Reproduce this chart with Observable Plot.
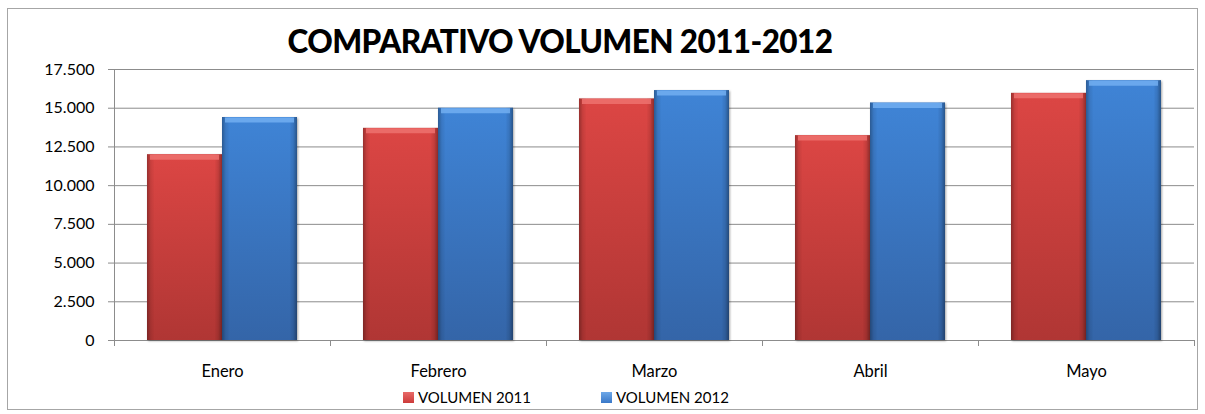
<!DOCTYPE html>
<html>
<head>
<meta charset="utf-8">
<script src="https://cdn.jsdelivr.net/npm/d3@7"></script>
<script src="https://cdn.jsdelivr.net/npm/@observablehq/plot@0.6"></script>
<style>
  html, body { margin: 0; padding: 0; background: #fff; }
  #wrap { position: relative; width: 1205px; height: 414px; overflow: hidden; font-family: Lato, "Open Sans", sans-serif; }
  #border { position: absolute; left: 7px; top: 8px; width: 1189px; height: 400px; border: 1px solid #a6a6a6; pointer-events: none; }
  #title { height: 60px; text-align: center; width: 1120px; font-weight: 900; font-size: 31.5px; color: #000; letter-spacing: -0.6px; box-sizing: border-box; padding-top: 22px; line-height: 38px; }
  #legend { position: relative; height: 24px; font-size: 15px; color: #000; }
  .li { position: absolute; top: -2px; height: 18px; display: flex; align-items: center; }
  .sw { width: 11px; height: 11px; margin-right: 4px; }
  svg { display: block; }
</style>
</head>
<body>
<div id="wrap">
  <div id="title">COMPARATIVO VOLUMEN 2011-2012</div>
  <div id="chart"></div>
  <div id="legend"></div>
  <div id="border"></div>
</div>
<script>
const months = ["Enero", "Febrero", "Marzo", "Abril", "Mayo"];
const series = ["VOLUMEN 2011", "VOLUMEN 2012"];
const vol2011 = [12000, 13700, 15600, 13230, 15960];
const vol2012 = [14400, 15000, 16140, 15340, 16780];
const yTicks = [0, 2500, 5000, 7500, 10000, 12500, 15000, 17500];

const data = [];
months.forEach((m, i) => {
  data.push({month: m, series: series[0], value: vol2011[i]});
  data.push({month: m, series: series[1], value: vol2012[i]});
});

const locale = d3.formatLocale({decimal: ",", thousands: ".", grouping: [3], currency: ["", ""]});
const fmt = locale.format(",d");

const grid = "#8c8c8c";

const plot = Plot.plot({
  width: 1205,
  height: 330,
  marginLeft: 114,
  marginRight: 11,
  marginTop: 9,
  marginBottom: 50,
  style: {fontFamily: "Lato, 'Open Sans', sans-serif", fontSize: "15px", color: "#000", background: "transparent"},
  fx: {domain: months, padding: 0, label: null},
  x: {domain: series, paddingInner: 0, paddingOuter: 0.43, axis: null},
  y: {domain: [0, 17500], label: null},
  color: {domain: series, range: ["url(#gRed)", "url(#gBlue)"]},
  marks: [
    Plot.gridY(yTicks, {stroke: grid, strokeOpacity: 1}),
    Plot.ruleY([0], {stroke: grid}),
    Plot.axisY({ticks: yTicks, tickFormat: fmt, tickSize: 6, tickPadding: 14, stroke: grid, fontSize: 16, label: null}),
    Plot.axisFx({anchor: "bottom", tickSize: 0, tickPadding: 25, fontSize: 16.5, label: null}),
    Plot.barY(data, {fx: "month", x: "series", y: "value", fill: "series"}),
    Plot.barY(data, {fx: "month", x: "series", y: "value", fill: "url(#gShade)"}),
    Plot.tickY(data, {fx: "month", x: "series", y: "value", stroke: d => d.series === series[0] ? "#ef7472" : "#75b1f2", strokeWidth: 5, dy: 2.5, strokeOpacity: 0.8, insetLeft: 3, insetRight: 3})
  ]
});

// gradients
const svg = d3.select(plot);
const defs = svg.insert("defs", ":first-child");
function vgrad(id, c1, c2) {
  const g = defs.append("linearGradient").attr("id", id).attr("x1", 0).attr("y1", 0).attr("x2", 0).attr("y2", 1);
  g.append("stop").attr("offset", "0%").attr("stop-color", c1);
  g.append("stop").attr("offset", "100%").attr("stop-color", c2);
}
vgrad("gRed", "#dc4644", "#b03634");
vgrad("gBlue", "#3f84d6", "#3465a8");
const sh = defs.append("linearGradient").attr("id", "gShade").attr("x1", 0).attr("y1", 0).attr("x2", 1).attr("y2", 0);
[[0, 0.3], [0.05, 0.08], [0.1, 0], [0.9, 0], [0.95, 0.1], [1, 0.35]].forEach(([o, a]) =>
  sh.append("stop").attr("offset", o).attr("stop-color", "#000").attr("stop-opacity", a));

// axis lines and category separators from the library's scales
const fx = plot.scale("fx");
const y = plot.scale("y");
const bw = fx.bandwidth;
const g = svg.append("g").attr("stroke", grid).attr("stroke-width", 1);
const x0 = fx.apply(months[0]);
g.append("line").attr("x1", x0 + 0.5).attr("x2", x0 + 0.5).attr("y1", y.apply(17500)).attr("y2", y.apply(0));
const bounds = months.map(m => fx.apply(m)).concat([fx.apply(months[months.length - 1]) + bw]);
bounds.forEach(b => g.append("line").attr("x1", b + 0.5).attr("x2", b + 0.5).attr("y1", y.apply(0)).attr("y2", y.apply(0) + 6));

svg.selectAll('g[aria-label="bar"]').filter((d, i) => i === 0).style("filter", "drop-shadow(1px 1px 1px rgba(0,0,0,0.35))");

document.getElementById("chart").appendChild(plot);

// legend
const legend = document.getElementById("legend");
const legendColors = ["#cc3b3a", "#3a78c8"];
const legendX = [403, 601];
series.forEach((s, i) => {
  const d = document.createElement("div");
  d.className = "li";
  d.style.left = legendX[i] + "px";
  d.innerHTML = `<div class="sw" style="background:linear-gradient(${i ? "#6ea8e8" : "#e86a68"}, ${legendColors[i]})"></div><span>${s}</span>`;
  legend.appendChild(d);
});
</script>
</body>
</html>
